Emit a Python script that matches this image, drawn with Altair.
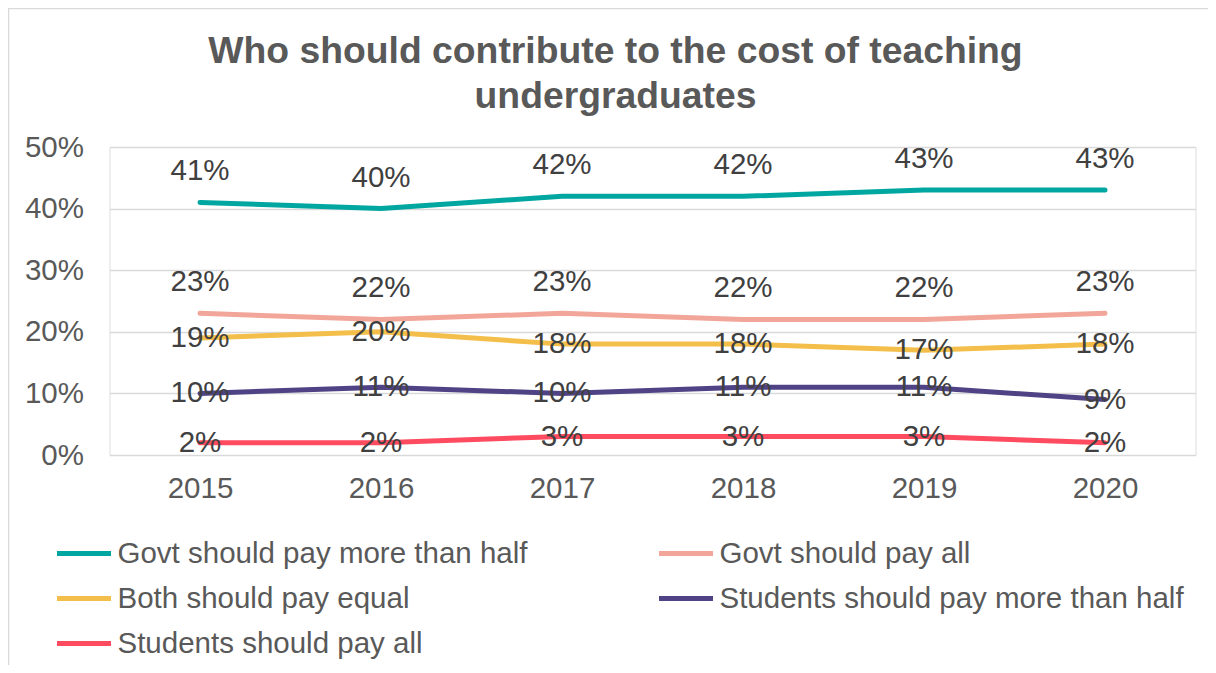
import altair as alt
import pandas as pd

years = ["2015", "2016", "2017", "2018", "2019", "2020"]
series = [
    "Govt should pay more than half",
    "Govt should pay all",
    "Both should pay equal",
    "Students should pay more than half",
    "Students should pay all",
]
colors = ["#00A6A0", "#F2A69A", "#F4BE4A", "#4F4385", "#FF4B5F"]
govt_more_than_half = [0.41, 0.40, 0.42, 0.42, 0.43, 0.43]
govt_all = [0.23, 0.22, 0.23, 0.22, 0.22, 0.23]
both_equal = [0.19, 0.20, 0.18, 0.18, 0.17, 0.18]
students_more_than_half = [0.10, 0.11, 0.10, 0.11, 0.11, 0.09]
students_all = [0.02, 0.02, 0.03, 0.03, 0.03, 0.02]
label_above = [True, True, False, False, False]

values = [govt_more_than_half, govt_all, both_equal, students_more_than_half, students_all]
rows = []
for s, vals, above in zip(series, values, label_above):
    for y, v in zip(years, vals):
        rows.append({"year": y, "series": s, "value": v, "above": above})
df = pd.DataFrame(rows)

W, H = 1086, 308
PL, PT = 101.5, 139

font = "Liberation Sans"
FS = 29.5

x = alt.X("year:O", sort=years,
          scale=alt.Scale(type="point", padding=0.5),
          axis=alt.Axis(title=None, labelAngle=0, labelFontSize=FS, labelColor="#595959",
                        labelFont=font, domain=False, ticks=False, labelPadding=19, grid=False))
y = alt.Y("value:Q", scale=alt.Scale(domain=[0, 0.5]),
          axis=alt.Axis(title=None, values=[0, 0.1, 0.2, 0.3, 0.4, 0.5], format=".0%",
                        labelFontSize=FS, labelColor="#595959", labelFont=font,
                        domain=False, ticks=False, labelPadding=26,
                        grid=True, gridColor="#d9d9d9", gridWidth=1.5))
color = alt.Color("series:N", sort=series,
                  scale=alt.Scale(domain=series, range=colors),
                  legend=alt.Legend(title=None, orient="none", legendX=-55, legendY=377,
                                    direction="horizontal",
                                    columns=2, columnPadding=121, rowPadding=1,
                                    symbolType="stroke", symbolStrokeWidth=5, symbolSize=2916,
                                    labelFontSize=FS, labelColor="#595959", labelFont=font,
                                    labelLimit=600, labelOffset=4))

frame = alt.Chart(pd.DataFrame({"a": [0]})).mark_rect(
    fill=None, stroke="#d9d9d9", strokeWidth=1.5
).encode(x=alt.value(-PL + 0.5), x2=alt.value(W + 200),
         y=alt.value(-PT + 0.5), y2=alt.value(H + 400))

lines = alt.Chart(df).mark_line(strokeWidth=5, strokeCap="round", strokeJoin="round").encode(
    x=x, y=y, color=color, detail="series:N")

lab_above = alt.Chart(df).transform_filter("datum.above").mark_text(
    fontSize=FS, font=font, color="#404040", dy=-31, baseline="middle"
).encode(x=alt.X("year:O", sort=years), y="value:Q", text=alt.Text("value:Q", format=".0%"))

lab_mid = alt.Chart(df).transform_filter("!datum.above").mark_text(
    fontSize=FS, font=font, color="#404040", dy=0, baseline="middle"
).encode(x=alt.X("year:O", sort=years), y="value:Q", text=alt.Text("value:Q", format=".0%"))

chart = alt.layer(frame, lines, lab_above, lab_mid).properties(
    width=W, height=H,
    title=alt.TitleParams(["Who should contribute to the cost of teaching", "undergraduates"],
                          fontSize=37.3, font=font, fontWeight="bold", color="#595959",
                          anchor="middle", dx=-37, lineHeight=45, offset=-109),
    autosize=alt.AutoSizeParams(type="none"),
    padding={"left": PL, "top": PT, "right": 1200 - PL - W, "bottom": 657 - PT - H},
).configure_view(stroke=None).configure(background="white")

chart.save("out.html", embed_options={"renderer": "svg", "actions": False})
